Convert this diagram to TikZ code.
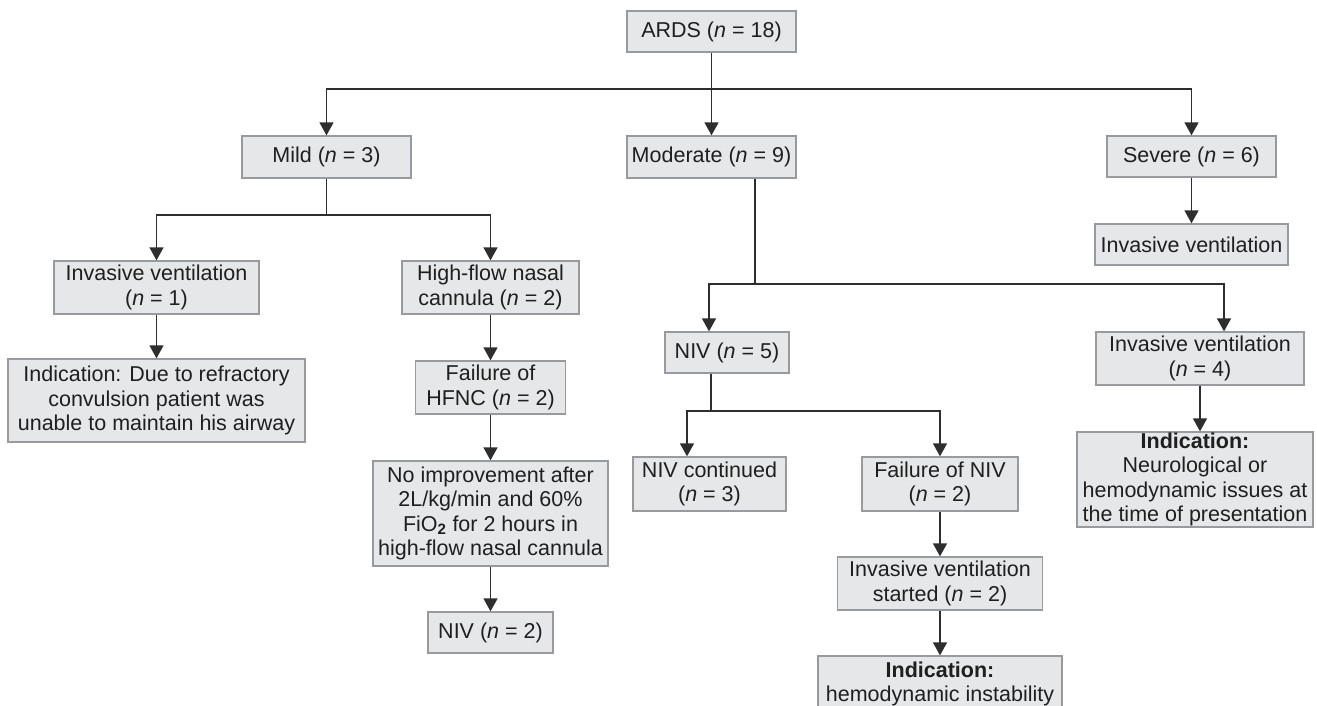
\documentclass[tikz,border=0pt]{standalone}
\usepackage{fontspec}
\setmainfont{Liberation Sans}
\usetikzlibrary{arrows.meta}
\definecolor{boxfill}{HTML}{E6E7E8}
\definecolor{boxline}{HTML}{989A9D}
\definecolor{linkline}{HTML}{2E2E2E}
\newcommand{\nval}[1]{(\textit{n} = #1)}
\tikzset{
  >={Triangle[width=14pt,length=13pt]},
  box/.style 2 args={draw=boxline, fill=boxfill, line width=1.3pt, inner sep=0pt,
    align=center, minimum width=#1, minimum height=#2, text=black!88,
    font=\fontsize{21.5}{24.5}\selectfont},
  link/.style={draw=linkline, line width=1.4pt}
}

\begin{document}
\begin{tikzpicture}[x=1pt,y=-1pt]
  \useasboundingbox (0,0) rectangle (1317,705);
  \node[box={169pt}{41pt}] (ards) at (711.5,31.5) {ARDS \nval{18}};
  \node[box={169pt}{42pt}] (mild) at (326.5,157) {Mild \nval{3}};
  \node[box={169pt}{42pt}] (moderate) at (711.5,157) {Moderate \nval{9}};
  \node[box={169pt}{41pt}] (severe) at (1191.5,156.5) {Severe \nval{6}};
  \node[box={193pt}{41pt}] (sevinv) at (1191.5,244.5) {Invasive ventilation};
  \node[box={205pt}{53pt}] (mildinv) at (156.5,287.5) {Invasive ventilation\\\nval{1}};
  \node[box={177pt}{53pt}] (hfnc) at (490.5,287.5) {High-flow nasal\\cannula \nval{2}};
  \node[box={297pt}{83pt}] (mildind) at (156.5,400.5) {Indication: Due to refractory\\convulsion patient was\\unable to maintain his airway};
  \node[box={150pt}{53pt}] (hfncfail) at (490.5,387.5) {Failure of\\HFNC \nval{2}};
  \node[box={235pt}{105pt}] (noimp) at (490.5,513.5) {No improvement after\\2L/kg/min and 60\%\\FiO\textsubscript{\textbf{2}} for 2 hours in\\high-flow nasal cannula};
  \node[box={125pt}{41pt}] (hfncniv) at (490.5,632.5) {NIV \nval{2}};
  \node[box={124pt}{41pt}] (niv) at (727,352.5) {NIV \nval{5}};
  \node[box={208pt}{53pt}] (modinv) at (1200,358.5) {Invasive ventilation\\\nval{4}};
  \node[box={236pt}{95pt}] (modind) at (1195,479.5) {\textbf{Indication:}\\Neurological or\\hemodynamic issues at\\the time of presentation};
  \node[box={153pt}{54pt}] (nivcont) at (709.5,484) {NIV continued\\\nval{3}};
  \node[box={156pt}{54pt}] (nivfail) at (940,484) {Failure of NIV\\\nval{2}};
  \node[box={205pt}{53pt}] (ivstart) at (940,583.5) {Invasive ventilation\\started \nval{2}};
  \node[box={244pt}{56pt}] (ivind) at (940,684) {\textbf{Indication:}\\hemodynamic instability};

  \coordinate (busA) at (711.5,89);
  \coordinate (busB) at (326.5,215);
  \coordinate (busC) at (755,284);
  \coordinate (busCl) at (709,284);
  \coordinate (busCr) at (1224,284);
  \coordinate (busD) at (711,411);
  \coordinate (busDl) at (687,411);

  \draw[link] (ards) -- (busA);
  \draw[link,->] (busA) -| (mild);
  \draw[link,->] (busA) -- (moderate);
  \draw[link,->] (busA) -| (severe);
  \draw[link,->] (severe) -- (sevinv);
  \draw[link] (mild) -- (busB);
  \draw[link,->] (busB) -| (mildinv);
  \draw[link,->] (busB) -| (hfnc);
  \draw[link,->] (mildinv) -- (mildind);
  \draw[link,->] (hfnc) -- (hfncfail);
  \draw[link,->] (hfncfail) -- (noimp);
  \draw[link,->] (noimp) -- (hfncniv);
  \draw[link] (moderate.south -| busC) -- (busC);
  \draw[link,->] (busC) -- (busCl) -- (busCl |- niv.north);
  \draw[link,->] (busC) -- (busCr) -- (busCr |- modinv.north);
  \draw[link] (niv.south -| busD) -- (busD);
  \draw[link,->] (busD) -- (busDl) -- (busDl |- nivcont.north);
  \draw[link,->] (busD) -| (nivfail);
  \draw[link,->] (modinv) -- (modinv |- modind.north);
  \draw[link,->] (nivfail) -- (ivstart);
  \draw[link,->] (ivstart) -- (ivind);
\end{tikzpicture}
\end{document}
